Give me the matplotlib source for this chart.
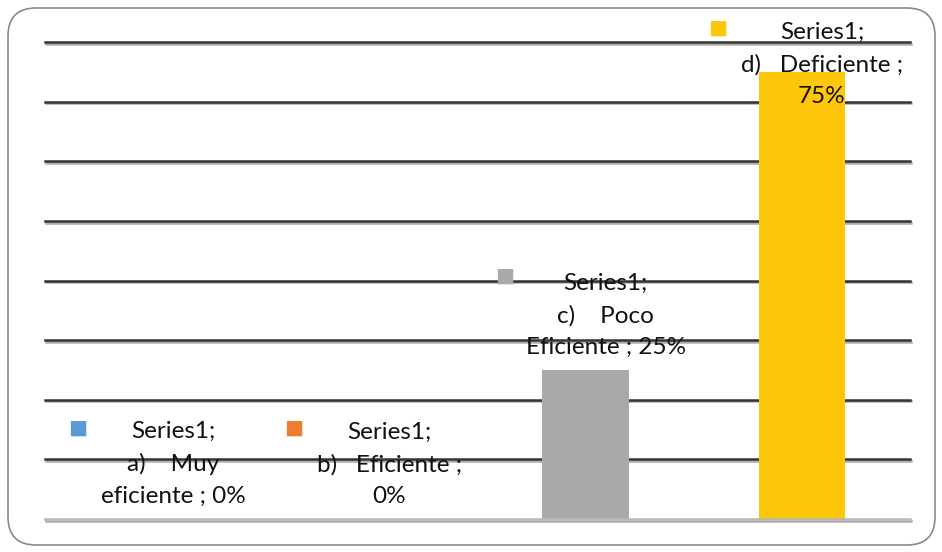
import matplotlib.pyplot as plt
import matplotlib.patheffects as pe
from matplotlib.patches import FancyBboxPatch
from matplotlib.transforms import IdentityTransform

# data
series = 'Series1'
categories = ['a)    Muy\neficiente', 'b)   Eficiente ;\n', 'c)    Poco\nEficiente', 'd)   Deficiente ;\n']
values = [0.0, 0.0, 0.25, 0.75]
pct_labels = ['0%', '0%', '25%', '75%']
colors = ['#5B9BD5', '#ED7D31', '#A9A9A9', '#FFC709']

# label offsets in pixels (text block bottom relative to bar top; marker)
label_dy = [12, 12, 12, -35]
marker_dx = [-75, -76, -81, -84]
marker_dy = [91, 91, 94, 44]

fig = plt.figure(figsize=(9.42, 5.52), dpi=100)
ax = fig.add_axes([45/942, 33/552, 865/942, 477/552])

x = range(len(values))
ax.bar(x, values, width=0.4, color=colors, zorder=3)
ax.set_xlim(-0.5, len(values) - 0.5)
ax.set_ylim(0, 0.8)

# gridlines with shadow
shadow = [pe.SimpleLineShadow(offset=(0.8, -1.2), shadow_color='#777777', alpha=0.6), pe.Normal()]
for k in range(1, 9):
    ax.axhline(k / 10, color='#333333', lw=1.8, zorder=1, path_effects=shadow, clip_on=False)
ax.axhline(0, color='#b8b8b8', lw=1.8, zorder=4, path_effects=shadow, clip_on=False)

for s in ax.spines.values():
    s.set_visible(False)
ax.set_xticks([])
ax.set_yticks([])

px = 0.72  # pixels -> points
for i, v in enumerate(values):
    cat = categories[i]
    if cat.endswith('\n'):
        txt = series + ';\n' + cat + pct_labels[i]
    else:
        txt = series + ';\n' + cat + ' ; ' + pct_labels[i]
    ax.annotate(txt, xy=(i, v), xytext=(20 * px, label_dy[i] * px), textcoords='offset points',
                ha='center', va='bottom', fontsize=17.5, family='Lato', linespacing=1.62,
                color='#111111', zorder=6, annotation_clip=False)
    ax.annotate('■', xy=(i, v), xytext=(marker_dx[i] * px, marker_dy[i] * px), textcoords='offset points',
                ha='center', va='center', fontsize=14.5, color=colors[i], zorder=6, annotation_clip=False)

border = FancyBboxPatch((8, 7), 927, 537, boxstyle='round,pad=0,rounding_size=28',
                        transform=IdentityTransform(), fill=False, edgecolor='#8a8a8a', lw=1.2)
fig.patches.append(border)

fig.savefig('out.png', dpi=100)
